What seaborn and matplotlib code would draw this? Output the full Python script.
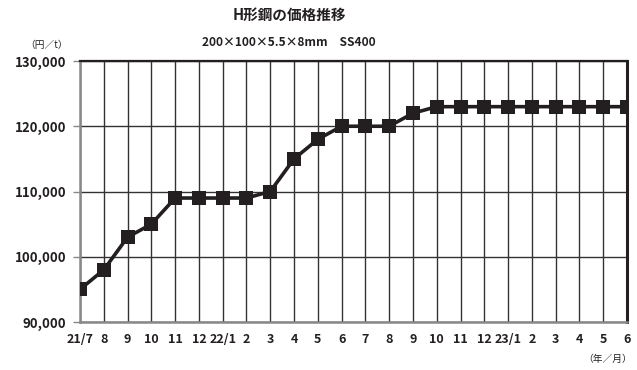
import matplotlib
matplotlib.use("Agg")
import matplotlib.pyplot as plt
import seaborn as sns
import pandas as pd
from matplotlib.ticker import FuncFormatter

# monthly price series (yen per tonne)
months = ["21/7", "8", "9", "10", "11", "12", "22/1", "2", "3", "4", "5", "6",
          "7", "8", "9", "10", "11", "12", "23/1", "2", "3", "4", "5", "6"]
prices = [95000, 98000, 103000, 105000, 109000, 109000, 109000, 109000,
          110000, 115000, 118000, 120000, 120000, 120000, 122000, 123000,
          123000, 123000, 123000, 123000, 123000, 123000, 123000, 123000]

df = pd.DataFrame({"idx": range(len(months)), "price": prices})

sns.set_theme(style="white")
plt.rcParams["font.family"] = ["Noto Sans CJK JP", "DejaVu Sans"]

ink = "#231f20"
fig = plt.figure(figsize=(6.37, 3.70), dpi=100)
ax = fig.add_axes([80 / 637, 1 - 322 / 370, 547 / 637, 261 / 370])

sns.lineplot(data=df, x="idx", y="price", ax=ax, color=ink, linewidth=2.6,
             marker="s", markersize=9.5, markeredgewidth=0, zorder=5)

ax.set_xlim(0, len(months) - 1)
ax.set_ylim(90000, 130000)
ax.set_xticks(range(len(months)))
ax.set_xticklabels(months)
ax.set_yticks(range(90000, 130001, 10000))
ax.yaxis.set_major_formatter(FuncFormatter(lambda v, p: f"{int(v):,}"))

ax.grid(True, color="#333333", linewidth=1.0)
ax.set_axisbelow(True)
ax.set_xlabel("")
ax.set_ylabel("")

for side in ["left", "bottom"]:
    ax.spines[side].set_color("#888888")
    ax.spines[side].set_linewidth(1.8)
ax.spines["top"].set_color(ink)
ax.spines["top"].set_linewidth(1.6)
ax.spines["right"].set_color(ink)
ax.spines["right"].set_linewidth(2.2)

ax.tick_params(axis="y", which="major", left=True, length=5, width=1,
               color="#888888", pad=5)
ax.tick_params(axis="x", which="major", bottom=False, pad=2)
for lbl in ax.get_xticklabels():
    lbl.set_fontsize(9)
    lbl.set_fontweight("bold")
    lbl.set_color(ink)
for lbl in ax.get_yticklabels():
    lbl.set_fontsize(9.5)
    lbl.set_fontweight("bold")
    lbl.set_color(ink)

fig.text(289 / 637, 1 - 15 / 370, "H形鋼の価格推移", ha="center", va="center",
         fontsize=10.5, fontweight="bold", color=ink)
fig.text(289 / 637, 1 - 42 / 370, "200×100×5.5×8mm　SS400", ha="center",
         va="center", fontsize=8.6, fontweight="bold", color=ink)
fig.text(47 / 637, 1 - 45 / 370, "（円／t）", ha="center", va="center",
         fontsize=7, color=ink)
fig.text(608 / 637, 1 - 359 / 370, "（年／月）", ha="center", va="center",
         fontsize=7, color=ink)

fig.savefig("out.png", dpi=100)
